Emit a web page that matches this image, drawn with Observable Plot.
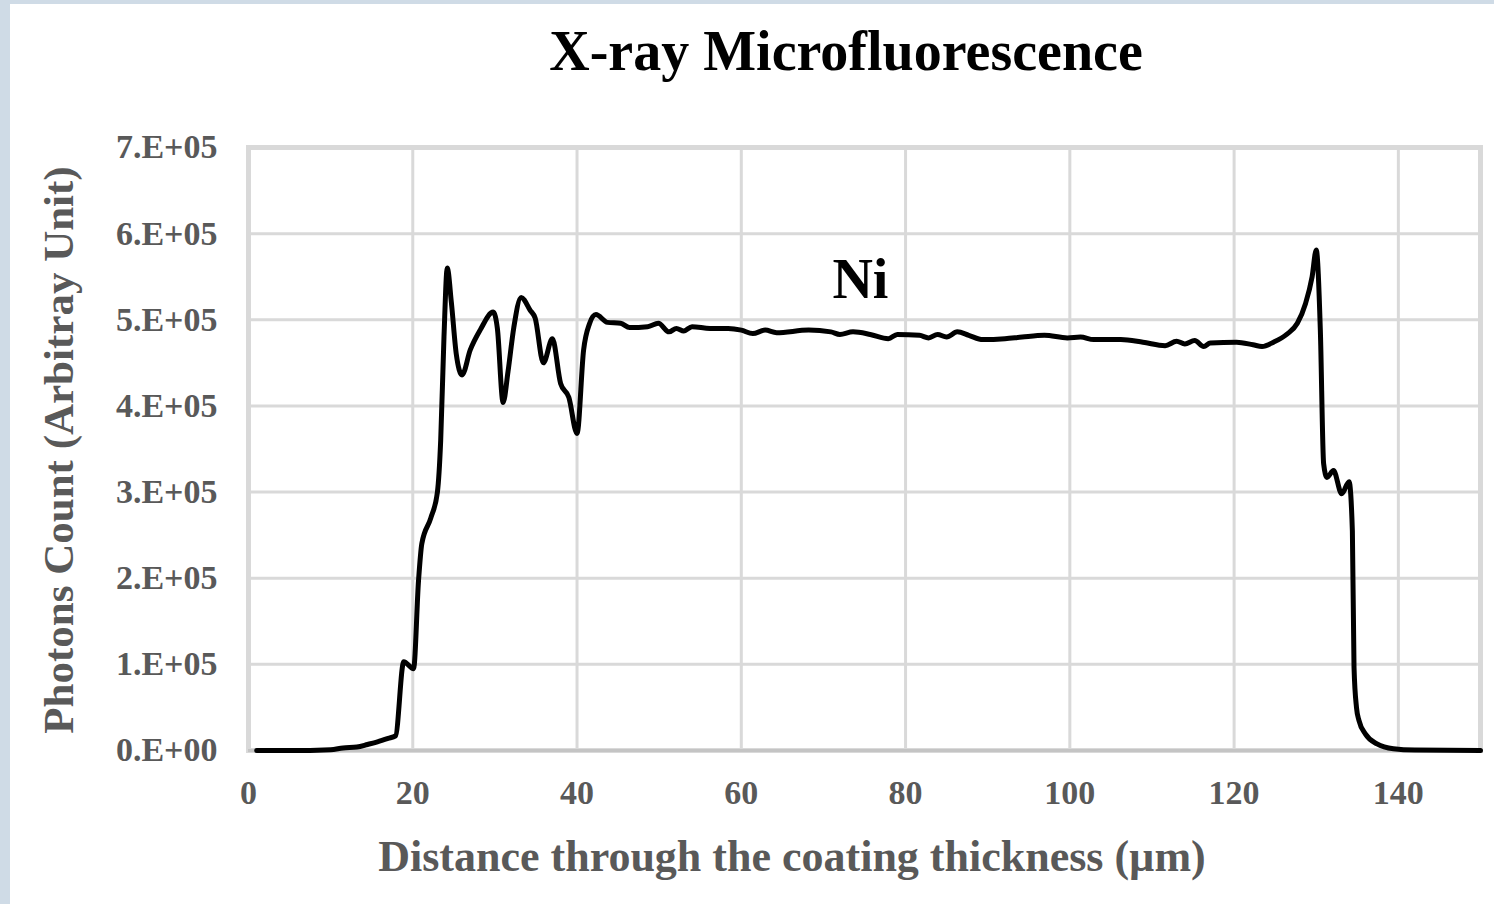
<!DOCTYPE html>
<html>
<head>
<meta charset="utf-8">
<script src="https://cdn.jsdelivr.net/npm/d3@7"></script>
<script src="https://cdn.jsdelivr.net/npm/@observablehq/plot@0.6"></script>
<style>
  html, body { margin: 0; padding: 0; }
  body { width: 1494px; height: 904px; background: #cfdbe6; position: relative; overflow: hidden; font-family: "Liberation Serif", "Times New Roman", serif; }
  #panel { position: absolute; left: 10px; top: 4px; width: 1484px; height: 900px; background: #ffffff; }
  .lbl { position: absolute; font-weight: bold; white-space: nowrap; line-height: 1; }
  #title { left: 836px; top: 19px; font-size: 56px; color: #000; transform: translateX(-50%); }
  #ylabel { left: 48px; top: 446px; font-size: 43px; color: #595959; transform: translate(-50%, -50%) rotate(-90deg); }
  #xlabel { left: 782px; top: 831px; font-size: 44px; color: #595959; transform: translateX(-50%); }
  #chart { position: absolute; left: 0; top: 96px; }
</style>
</head>
<body>
<div id="panel">
  <div id="title" class="lbl">X-ray Microfluorescence</div>
  <div id="ylabel" class="lbl">Photons Count (Arbitray Unit)</div>
  <div id="xlabel" class="lbl">Distance through the coating thickness (µm)</div>
  <div id="chart"></div>
</div>
<script>
// Distance (µm)
const distance = [
  1, 5, 10, 11.5, 13.2, 14.5, 15.7, 17.0, 17.9, 18.9, 20.1, 20.7, 21.1, 22.2, 23.0, 23.4, 23.8, 24.2,
  24.7, 25.3, 26.0, 27.0, 28.2, 29.8, 30.3, 31.0, 31.6, 32.3, 33.2, 34.3, 34.9, 35.9, 37.0, 38.0, 39.0,
  40.0, 40.8, 41.5, 42.3, 43.7, 45.3, 46.4, 48.6, 49.9, 51.2, 52.1, 53.0, 54.0, 56.2, 58.4, 60.0, 61.4,
  62.9, 64.3, 68.2, 70.9, 72.0, 73.6, 75.7, 77.9, 79.0, 81.7, 82.8, 83.9, 85.0, 86.3, 87.7, 89.4, 92.1,
  94.2, 96.9, 99.7, 101.3, 102.9, 106.2, 108.9, 111.6, 113.0, 114.0, 115.2, 116.3, 117.1, 120.3, 122.3,
  123.4, 124.8, 126.4, 127.7, 128.7, 129.5, 130.0, 130.5, 130.9, 131.3, 132.1, 133.1, 134.0, 134.4,
  134.6, 134.9, 135.2, 136.0, 137.4, 139.4, 142.0, 150.0
];
// Photons count (arbitrary unit)
const counts = [
  0, 0, 1000, 3000, 4000, 7000, 10000, 14000, 17000, 103000, 95000, 197000, 240000, 270000, 300000, 360000, 480000, 560000,
  520000, 460000, 436000, 465000, 488000, 509000, 490000, 404000, 440000, 491000, 526000, 511000, 502000, 450000, 478000, 426000, 410000,
  368000, 465000, 495000, 506000, 497000, 496000, 491000, 492000, 496000, 486000, 490000, 487000, 492000, 490000, 490000, 488000, 484000,
  488000, 485000, 488000, 486000, 483000, 486000, 483000, 478000, 483000, 482000, 479000, 483000, 480000, 486000, 482000, 477000, 478000,
  480000, 482000, 479000, 480000, 477000, 477000, 474000, 470000, 475000, 472000, 476000, 469000, 473000, 474000, 471000,
  469000, 474000, 483000, 496000, 519000, 550000, 581000, 488000, 333000, 317000, 325000, 298000, 312000, 255000,
  97000, 50000, 35000, 19000, 7700, 2000, 500, 0
];
const xTicks = [0, 20, 40, 60, 80, 100, 120, 140];
const yTicks = [0, 100000, 200000, 300000, 400000, 500000, 600000, 700000];
const yTickLabels = ["0.E+00", "1.E+05", "2.E+05", "3.E+05", "4.E+05", "5.E+05", "6.E+05", "7.E+05"];
const annotationText = ["Ni"];
const annotationX = [74.5];
const annotationY = [546000];

const data = distance.map((d, i) => ({x: d, y: counts[i]}));
const notes = annotationText.map((t, i) => ({x: annotationX[i], y: annotationY[i], text: t}));

const chart = Plot.plot({
  width: 1484,
  height: 800,
  marginLeft: 238,
  marginRight: 14,
  marginTop: 47,
  marginBottom: 150,
  style: { fontFamily: "'Liberation Serif', 'Times New Roman', serif", fontWeight: "bold", fontSize: "34px", color: "#595959", background: "transparent", overflow: "visible" },
  x: { domain: [0, 150] },
  y: { domain: [0, 700000] },
  marks: [
    Plot.gridX(xTicks, { stroke: "#d9d9d9", strokeOpacity: 1, strokeWidth: 3 }),
    Plot.gridY(yTicks, { stroke: "#d9d9d9", strokeOpacity: 1, strokeWidth: 3 }),
    Plot.frame({ stroke: "#d9d9d9", strokeWidth: 5 }),
    Plot.ruleY([0], { stroke: "#c4c4c4", strokeWidth: 3 }),
    Plot.axisX({ ticks: xTicks, tickSize: 0, tickPadding: 29, label: null, fontSize: 34, fill: "#595959" }),
    Plot.axisY({ ticks: yTicks, tickSize: 0, tickPadding: 31, label: null, fontSize: 34, fill: "#595959",
                 tickFormat: d => yTickLabels[yTicks.indexOf(d)] }),
    Plot.line(data, { x: "x", y: "y", stroke: "#000", strokeWidth: 5, curve: "monotone-x", strokeLinejoin: "round" }),
    Plot.text(notes, { x: "x", y: "y", text: "text", fontSize: 56, fill: "#000", fontWeight: "bold" })
  ]
});
document.getElementById("chart").appendChild(chart);
</script>
</body>
</html>
